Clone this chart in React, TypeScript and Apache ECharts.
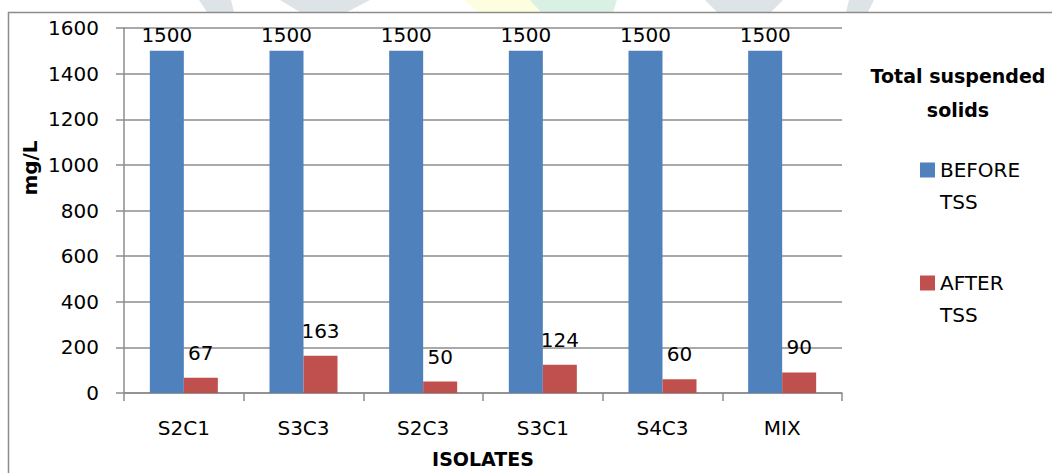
import React, { useEffect, useRef } from "react";
import * as echarts from "echarts";

// Isolates on the category axis
const categories = ["S2C1", "S3C3", "S2C3", "S3C1", "S4C3", "MIX"];
// Total suspended solids (mg/L) before and after treatment
const beforeTSS = [1500, 1500, 1500, 1500, 1500, 1500];
const afterTSS = [67, 163, 50, 124, 60, 90];
const seriesNames = ["BEFORE TSS", "AFTER TSS"];
// Value axis range and step
const yMin = 0;
const yMax = 1600;
const yStep = 200;

const FONT = "DejaVu Sans";
const AXIS_GRAY = "#8c8c8c";
const BLUE = "#4f81bd";
const RED = "#c0504d";
const MARK_GRAY = "#dde3e7";

export default function App() {
  const ref = useRef<HTMLDivElement>(null);

  useEffect(() => {
    if (!ref.current) return;
    const chart = echarts.init(ref.current, null, { renderer: "svg" });

    const valueLabel = (distance: number) => ({
      show: true,
      position: "top" as const,
      distance,
      color: "#000",
      fontFamily: FONT,
      fontSize: 20,
    });

    chart.setOption({
      animation: false,
      backgroundColor: "#fff",
      textStyle: { fontFamily: FONT },
      graphic: [
        // faint background emblem peeking above the frame
        { type: "polygon", z: -20, shape: { points: [[199, 0], [231, 0], [234, 12], [207, 12]] }, style: { fill: MARK_GRAY } },
        { type: "polygon", z: -20, shape: { points: [[280, 0], [370, 0], [347, 12], [300, 12]] }, style: { fill: MARK_GRAY } },
        { type: "polygon", z: -20, shape: { points: [[464, 0], [531, 0], [541, 12], [478, 12]] }, style: { fill: "#fdfde0" } },
        { type: "polygon", z: -20, shape: { points: [[530, 0], [617, 0], [613, 12], [541, 12]] }, style: { fill: "#d9f1e5" } },
        { type: "polygon", z: -20, shape: { points: [[705, 0], [783, 0], [771, 12], [717, 12]] }, style: { fill: MARK_GRAY } },
        { type: "polygon", z: -20, shape: { points: [[849, 0], [874, 0], [868, 12], [846, 12]] }, style: { fill: MARK_GRAY } },
        // chart frame
        {
          type: "rect",
          z: -10,
          shape: { x: 8.5, y: 12.5, width: 1100, height: 500 },
          style: { fill: "#fff", stroke: AXIS_GRAY, lineWidth: 1.5 },
        },
        // value axis title
        {
          type: "text",
          x: 30,
          y: 168,
          rotation: Math.PI / 2,
          style: {
            text: "mg/L",
            fontFamily: FONT,
            fontWeight: "bold",
            fontSize: 20,
            fill: "#000",
            textAlign: "center",
            textVerticalAlign: "middle",
          },
        },
        // legend heading
        {
          type: "text",
          x: 958,
          y: 93,
          style: {
            text: "Total suspended\nsolids",
            fontFamily: FONT,
            fontWeight: "bold",
            fontSize: 19,
            lineHeight: 34,
            fill: "#000",
            textAlign: "center",
            textVerticalAlign: "middle",
          },
        },
      ],
      legend: {
        orient: "vertical",
        left: 920,
        top: 122,
        padding: 0,
        itemWidth: 15,
        itemHeight: 15,
        itemGap: 17,
        icon: "rect",
        data: seriesNames,
        // a blank first line keeps the first word level with the swatch
        formatter: (name: string) => " \n" + name.replace(" ", "\n"),
        textStyle: {
          fontFamily: FONT,
          fontSize: 20,
          lineHeight: 32,
          color: "#000",
        },
      },
      grid: { left: 124, right: 210, top: 28, bottom: 79, containLabel: false },
      xAxis: {
        type: "category",
        data: categories,
        name: "ISOLATES",
        nameLocation: "middle",
        nameGap: 56,
        nameTextStyle: { fontFamily: FONT, fontWeight: "bold", fontSize: 19, color: "#000" },
        axisLine: { lineStyle: { color: AXIS_GRAY, width: 1.5 } },
        axisTick: { show: true, length: 8, lineStyle: { color: AXIS_GRAY, width: 1.5 } },
        axisLabel: { fontFamily: FONT, fontSize: 20, color: "#000", margin: 25 },
      },
      yAxis: {
        type: "value",
        min: yMin,
        max: yMax,
        interval: yStep,
        axisLine: { show: true, lineStyle: { color: AXIS_GRAY, width: 1.5 } },
        axisTick: { show: true, length: 8, lineStyle: { color: AXIS_GRAY, width: 1.5 } },
        axisLabel: {
          fontFamily: FONT,
          fontSize: 20,
          color: "#000",
          margin: 25,
          formatter: (v: number) => String(v),
        },
        splitLine: { show: true, lineStyle: { color: AXIS_GRAY, width: 1.5 } },
      },
      series: [
        {
          name: seriesNames[0],
          type: "bar",
          data: beforeTSS,
          barWidth: 34,
          barGap: "0%",
          itemStyle: { color: BLUE },
          label: valueLabel(6),
        },
        {
          name: seriesNames[1],
          type: "bar",
          data: afterTSS,
          barWidth: 34,
          barGap: "0%",
          itemStyle: { color: RED },
          label: valueLabel(15),
        },
      ],
    });

    return () => chart.dispose();
  }, []);

  return (
    <div
      ref={ref}
      style={{ position: "fixed", left: 0, top: 0, width: 1052, height: 473 }}
    />
  );
}
